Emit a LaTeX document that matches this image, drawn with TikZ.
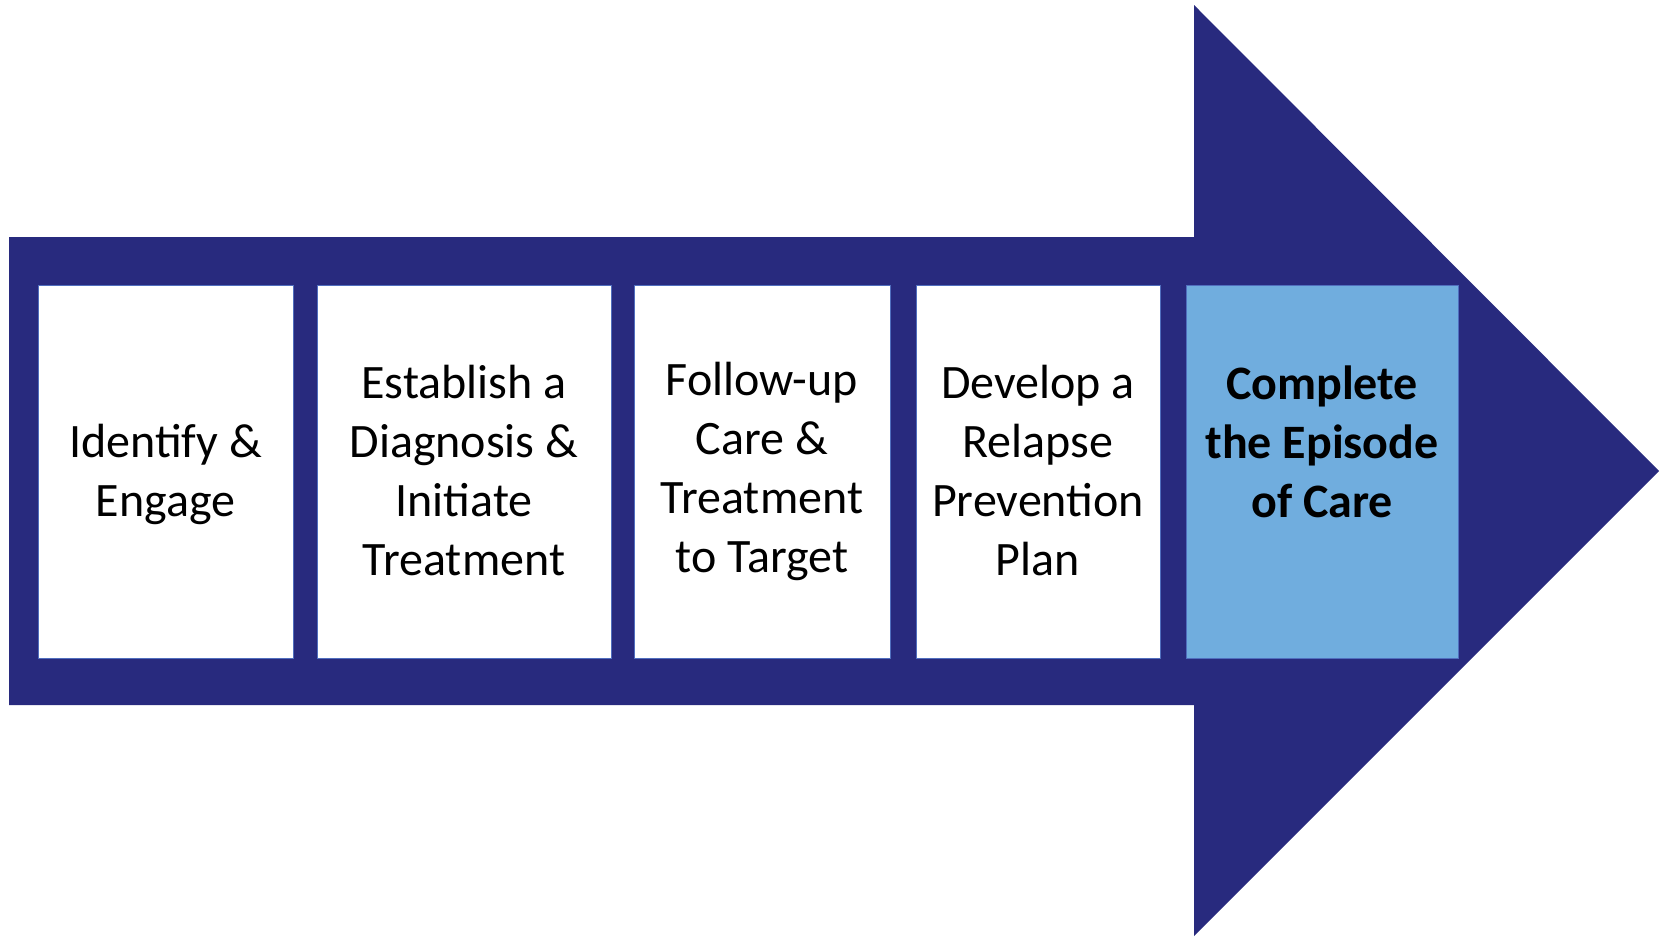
\documentclass[tikz,border=0pt]{standalone}
\usepackage{fontspec}
\setmainfont{Carlito}
\definecolor{navy}{RGB}{40,42,126}
\definecolor{lightblue}{RGB}{112,173,222}
\definecolor{edgeblue}{RGB}{80,110,190}
\begin{document}
\begin{tikzpicture}[x=0.5pt,y=-0.5pt,
  stepbox/.style={draw=edgeblue,line width=0.5pt,fill=white},
  lastbox/.style={draw=edgeblue,line width=0.5pt,fill=lightblue},
  steptext/.style={align=center,font=\fontsize{24}{29.5}\selectfont,text=black,inner sep=0pt},
  lasttext/.style={steptext,font=\fontsize{24}{29.5}\selectfont\bfseries}]
\useasboundingbox (0,0) rectangle (1661,937);
% big arrow
\fill[navy] (9,237) -- (1194,237) -- (1194,5) -- (1659,471) -- (1194,936) -- (1194,705) -- (9,705) -- cycle;
% boxes
\draw[stepbox] (38,285) rectangle (293,658);
\draw[stepbox] (317,285) rectangle (611,658);
\draw[stepbox] (634,285) rectangle (890,658);
\draw[stepbox] (916,285) rectangle (1160,658);
\draw[lastbox] (1186,285) rectangle (1458,658);
% texts
\node[steptext] (t1) at (165.5,474) {Identify \&\\Engage};
\node[steptext] (t2) at (464,471) {Establish a\\Diagnosis \&\\Initiate\\Treatment};
\node[steptext] (t3) at (762,471) {Follow-up\\Care \&\\Treatment\\to Target};
\node[steptext] (t4) at (1038,471) {Develop a\\Relapse\\Prevention\\Plan};
\node[lasttext] (t5) at (1322,442) {Complete\\the Episode\\of Care};
\end{tikzpicture}
\end{document}
